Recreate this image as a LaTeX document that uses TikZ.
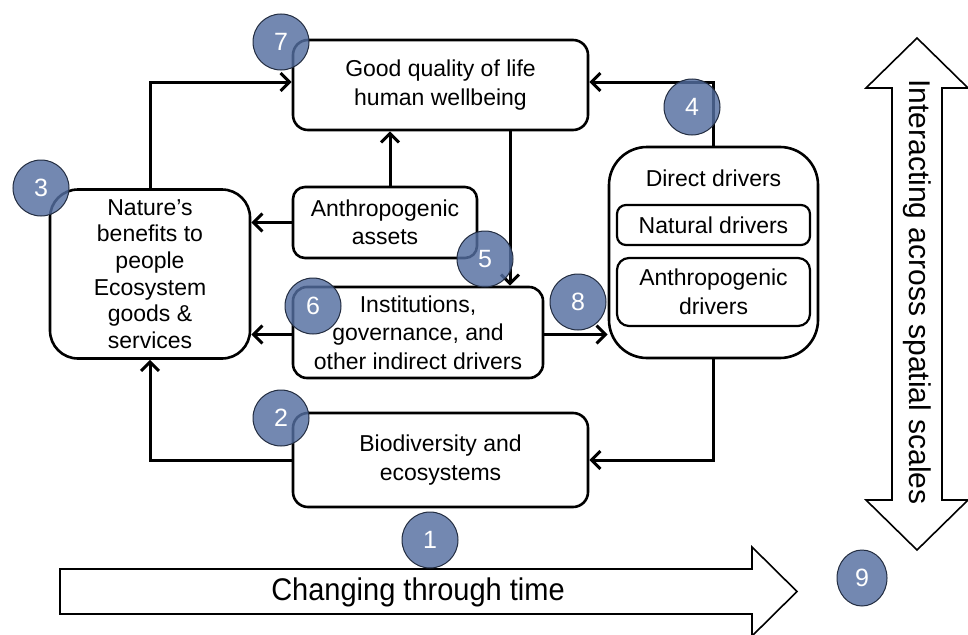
\documentclass[tikz,border=0pt]{standalone}
\usepackage{fontspec}
\setmainfont{Liberation Sans}
\usetikzlibrary{arrows.meta,shapes.geometric}
\definecolor{numblue}{RGB}{84,110,160}
\definecolor{numedge}{RGB}{35,45,65}
\tikzset{
  box/.style={draw=black, line width=2.6pt, fill=white, align=center, inner sep=0pt,
    font=\fontsize{23}{28.5}\selectfont},
  arr/.style={line width=3pt, -{Straight Barb[length=9pt,width=18pt,line width=3pt]}},
  num/.style={circle, minimum size=56pt, inner sep=0pt, fill=numblue, fill opacity=0.82,
    text opacity=1, draw=numedge, line width=1pt, text=white, font=\fontsize{25}{25}\selectfont},
  bigarrow/.style={draw=black, line width=1.6pt, fill=white}
}
\begin{document}
\begin{tikzpicture}[x=1pt,y=-1pt]
\useasboundingbox (0,0) rectangle (968,634);
\clip (0,0) rectangle (968,634);
% boxes
\node[box, minimum width=295pt, minimum height=90pt, rounded corners=15pt] (b7) at (440.5,85) {Good quality of life\\human wellbeing};
\node[box, minimum width=200pt, minimum height=169pt, rounded corners=28pt, font=\fontsize{23}{26.6}\selectfont] (b3) at (150,274) {Nature’s\\benefits to\\people\\Ecosystem\\goods \&\\services};
\node[box, minimum width=184pt, minimum height=71pt, rounded corners=12pt] (assets) at (385,222.5) {Anthropogenic\\assets};
\node[box, minimum width=250pt, minimum height=91pt, rounded corners=14pt] (inst) at (418,332.5) {Institutions,\\governance, and\\other indirect drivers};
\node[box, minimum width=209pt, minimum height=211pt, rounded corners=38pt] (direct) at (713.5,252.5) {};
\node[font=\fontsize{23}{28}\selectfont] (dtitle) at (713.5,178) {Direct drivers};
\node[box, line width=2.2pt, minimum width=193pt, minimum height=40pt, rounded corners=9pt] (natural) at (713.5,225) {Natural drivers};
\node[box, line width=2.2pt, minimum width=193pt, minimum height=68pt, rounded corners=12pt] (anthdr) at (713.5,292) {Anthropogenic\\drivers};
\node[box, minimum width=295pt, minimum height=94pt, rounded corners=15pt] (bio) at (440.5,460) {Biodiversity and\\ecosystems};
% connectors
\draw[arr] (b3.north) |- ([yshift=3pt]b7.west);
\draw[arr] (assets.north -| 390,0) -- (390,0 |- b7.south);
\draw[arr] (assets.west) -- (assets.west -| b3.east);
\draw[arr] ([xshift=69.5pt]b7.south) -- ([xshift=69.5pt]b7.south |- inst.north);
\draw[arr] ([yshift=-2pt]inst.west) -- ([yshift=-2pt]inst.west -| b3.east);
\draw[arr] ([yshift=-2pt]inst.east) -- ([yshift=-2pt]inst.east -| direct.west);
\draw[arr] (direct.north) |- ([yshift=3pt]b7.east);
\draw[arr] (direct.south) |- (bio.east);
\draw[arr] (bio.west) -| (b3.south);
% big arrows
\draw[bigarrow] (60,569) -- (752,569) -- (752,547) -- (797,591.5) -- (752,636) -- (752,614) -- (60,614) -- cycle;
\node[font=\fontsize{29}{29}\selectfont, yscale=1.08] (time) at (418,592) {Changing through time};
\draw[bigarrow] (892,88) -- (866,88) -- (917,38) -- (968,88) -- (942,88) -- (942,500) -- (968,500) -- (917,550) -- (866,500) -- (892,500) -- cycle;
\node[font=\fontsize{30}{30}\selectfont, rotate=-90] (space) at (917,292) {Interacting across spatial scales};
% numbers
\node[num] (c7) at (281,42) {7};
\node[num] (c3) at (41,188) {3};
\node[num] (c6) at (313,306) {6};
\node[num] (c5) at (485,259) {5};
\node[num] (c8) at (578,302) {8};
\node[num] (c4) at (692,107) {4};
\node[num] (c2) at (281,418) {2};
\node[num] (c1) at (430,540) {1};
\node[num, ellipse, minimum width=50pt, minimum height=56pt] (c9) at (862,578) {9};
\end{tikzpicture}
\end{document}
